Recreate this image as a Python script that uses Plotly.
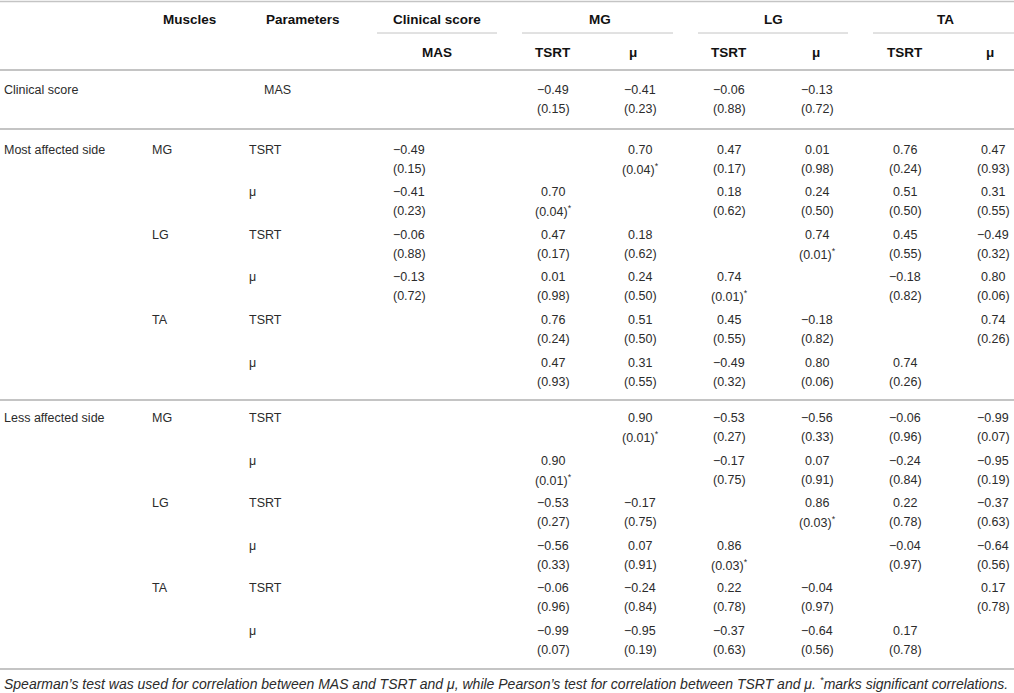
import plotly.graph_objects as go

# ---------------- data ----------------
group_headers = ["Clinical score", "MG", "LG", "TA"]
sub_headers = ["MAS", "TSRT", "μ", "TSRT", "μ", "TSRT", "μ"]
sections = ["Most affected side", "Less affected side"]
muscles = ["MG", "LG", "TA"]
params = ["TSRT", "μ"]

clin_label = "Clinical score"
clin_param = "MAS"
clin_r = [None, -0.49, -0.41, -0.06, -0.13, None, None]
clin_p = [None, 0.15, 0.23, 0.88, 0.72, None, None]

# columns: MAS, MG TSRT, MG mu, LG TSRT, LG mu, TA TSRT, TA mu
most_r = [
    [-0.49, None, 0.70, 0.47, 0.01, 0.76, 0.47],
    [-0.41, 0.70, None, 0.18, 0.24, 0.51, 0.31],
    [-0.06, 0.47, 0.18, None, 0.74, 0.45, -0.49],
    [-0.13, 0.01, 0.24, 0.74, None, -0.18, 0.80],
    [None, 0.76, 0.51, 0.45, -0.18, None, 0.74],
    [None, 0.47, 0.31, -0.49, 0.80, 0.74, None],
]
most_p = [
    [0.15, None, 0.04, 0.17, 0.98, 0.24, 0.93],
    [0.23, 0.04, None, 0.62, 0.50, 0.50, 0.55],
    [0.88, 0.17, 0.62, None, 0.01, 0.55, 0.32],
    [0.72, 0.98, 0.50, 0.01, None, 0.82, 0.06],
    [None, 0.24, 0.50, 0.55, 0.82, None, 0.26],
    [None, 0.93, 0.55, 0.32, 0.06, 0.26, None],
]
less_r = [
    [None, None, 0.90, -0.53, -0.56, -0.06, -0.99],
    [None, 0.90, None, -0.17, 0.07, -0.24, -0.95],
    [None, -0.53, -0.17, None, 0.86, 0.22, -0.37],
    [None, -0.56, 0.07, 0.86, None, -0.04, -0.64],
    [None, -0.06, -0.24, 0.22, -0.04, None, 0.17],
    [None, -0.99, -0.95, -0.37, -0.64, 0.17, None],
]
less_p = [
    [None, None, 0.01, 0.27, 0.33, 0.96, 0.07],
    [None, 0.01, None, 0.75, 0.91, 0.84, 0.19],
    [None, 0.27, 0.75, None, 0.03, 0.78, 0.63],
    [None, 0.33, 0.91, 0.03, None, 0.97, 0.56],
    [None, 0.96, 0.84, 0.78, 0.97, None, 0.78],
    [None, 0.07, 0.19, 0.63, 0.56, 0.78, None],
]

footnote = ("Spearman’s test was used for correlation between MAS and TSRT and μ, "
            "while Pearson’s test for correlation between TSRT and μ. "
            "<sup>*</sup>marks significant correlations.")

# ---------------- layout constants ----------------
W, H = 1014, 693
FONT = "Liberation Sans, Arial, Helvetica, sans-serif"
TXT = "#2b2b2b"
LINE = "#c4c4c4"
FS = 12.5
FS_HDR = 13.5

col_x = [409, 553, 640, 729, 817, 905, 993]          # data column centres
sub_hdr_x = [437, 553, 633, 729, 816, 905, 990]      # sub-header centres
grp_hdr_x = [437, 600, 773, 945]
grp_line = [(377, 497), (522, 673), (698, 848), (873, 1014)]
x_section, x_muscle, x_param, x_clin_param = 2, 150, 247, 262
hdr_muscles_x, hdr_params_x = 161, 264

y_grp, y_grpline, y_sub = 19, 33, 52
y_lines = [1.5, 70, 129, 400, 669]
y_clin = 90
sec_y0 = [149.5, 418]
row_h = 42.6
p_dy = 19
y_foot = 683


def fmt(v):
    s = f"{abs(v):.2f}"
    return ("−" + s) if v < 0 else s


anns = []


def add(x, y, text, anchor="center", bold=False, italic=False, size=FS):
    anns.append(dict(
        x=x, y=y, xref="x", yref="y", text=text, showarrow=False,
        xanchor=anchor, yanchor="middle",
        font=dict(family=FONT, size=size, color="#111" if bold else TXT,
                  weight="bold" if bold else "normal",
                  style="italic" if italic else "normal"),
    ))


def add_cell(x, y, r, p):
    if r is None:
        return
    add(x, y, fmt(r))
    ptxt = f"({p:.2f})" + ("<sup>*</sup>" if p < 0.05 else "")
    add(x, y + p_dy, ptxt)


# headers
add(hdr_muscles_x, y_grp, "Muscles", "left", bold=True, size=FS_HDR)
add(hdr_params_x, y_grp, "Parameters", "left", bold=True, size=FS_HDR)
for gx, g in zip(grp_hdr_x, group_headers):
    add(gx, y_grp, g, bold=True, size=FS_HDR)
for sx, s in zip(sub_hdr_x, sub_headers):
    add(sx, y_sub, s, bold=True, size=FS_HDR)

# clinical score row
add(x_section, y_clin, clin_label, "left")
add(x_clin_param, y_clin, clin_param, "left")
for cx, r, p in zip(col_x, clin_r, clin_p):
    add_cell(cx, y_clin, r, p)

# sections
for si, (sec, R, P) in enumerate(zip(sections, [most_r, less_r], [most_p, less_p])):
    for ri in range(len(R)):
        y = sec_y0[si] + ri * row_h
        if ri == 0:
            add(x_section, y, sec, "left")
        if ri % 2 == 0:
            add(x_muscle, y, muscles[ri // 2], "left")
        add(x_param, y, params[ri % 2], "left")
        for cx, r, p in zip(col_x, R[ri], P[ri]):
            add_cell(cx, y, r, p)

add(x_section, y_foot, footnote, "left", italic=True, size=14)

shapes = []
for i, yl in enumerate(y_lines):
    shapes.append(dict(type="line", xref="x", yref="y", x0=0, x1=W, y0=yl, y1=yl,
                       line=dict(color=LINE, width=1.5 if i == 0 else 2)))
for x0, x1 in grp_line:
    shapes.append(dict(type="line", xref="x", yref="y", x0=x0, x1=x1,
                       y0=y_grpline, y1=y_grpline, line=dict(color=LINE, width=1)))

fig = go.Figure()
fig.update_layout(
    width=W, height=H, margin=dict(l=0, r=0, t=0, b=0),
    paper_bgcolor="white", plot_bgcolor="white",
    xaxis=dict(range=[0, W], visible=False, fixedrange=True),
    yaxis=dict(range=[H, 0], visible=False, fixedrange=True),
    annotations=anns, shapes=shapes, showlegend=False,
)
fig.write_html(
    "out.html",
    config={"displayModeBar": False},
    post_script="document.body.style.margin='0';document.body.style.overflow='hidden';",
)
